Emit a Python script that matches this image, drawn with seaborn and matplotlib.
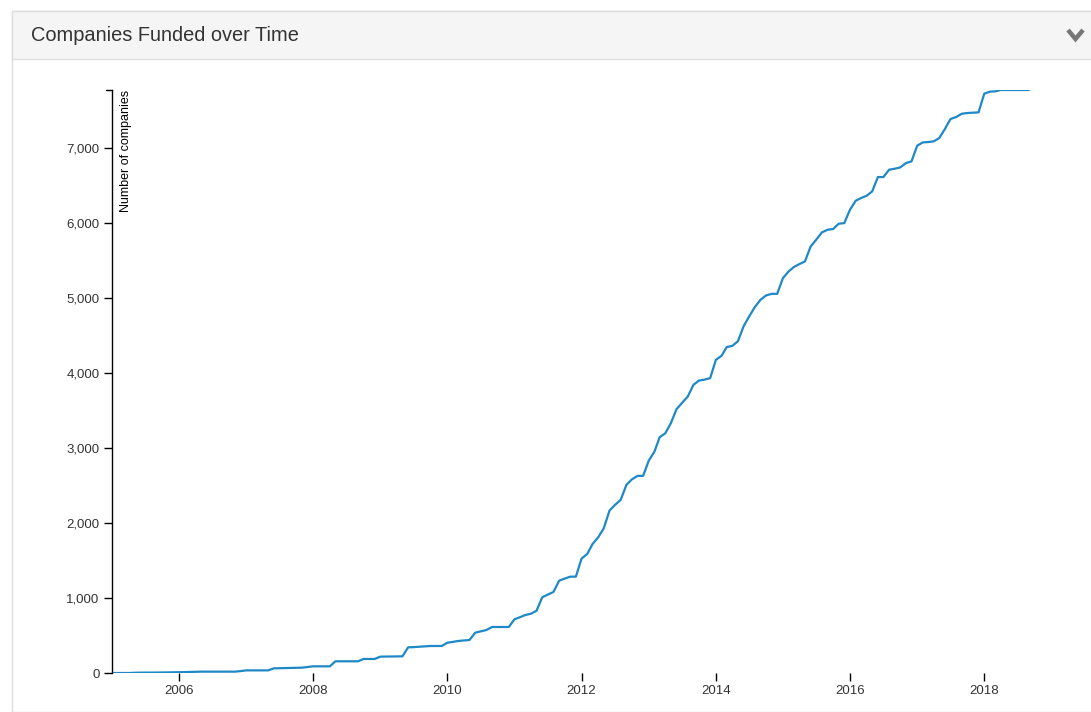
import numpy as np
import pandas as pd
import matplotlib
matplotlib.use("Agg")
import matplotlib.pyplot as plt
import matplotlib.dates as mdates
from matplotlib.patches import Rectangle
from matplotlib.lines import Line2D
from matplotlib.ticker import FuncFormatter
import seaborn as sns

# ---------------- data (cumulative companies funded, monthly) ----------------
start_month = "2005-01"
counts_2005 = [0, 0, 0, 0, 3, 5, 5, 6, 6, 7, 8, 8]
counts_2006 = [10, 12, 14, 16, 18, 18, 18, 18, 18, 18, 18, 25]
counts_2007 = [35, 35, 35, 35, 35, 62, 64, 66, 68, 70, 71, 80]
counts_2008 = [89, 89, 89, 89, 156, 156, 156, 156, 156, 187, 187, 187]
counts_2009 = [218, 219, 220, 221, 222, 342, 345, 350, 355, 360, 360, 360]
counts_2010 = [404, 415, 427, 434, 440, 537, 555, 573, 613, 613, 613, 613]
counts_2011 = [716, 745, 773, 790, 830, 1009, 1045, 1080, 1231, 1258, 1284, 1284]
counts_2012 = [1524, 1587, 1720, 1810, 1929, 2164, 2240, 2307, 2507, 2580, 2627, 2627]
counts_2013 = [2831, 2951, 3142, 3195, 3329, 3516, 3600, 3684, 3840, 3897, 3910, 3929]
counts_2014 = [4173, 4227, 4343, 4360, 4420, 4620, 4750, 4876, 4973, 5031, 5053, 5053]
counts_2015 = [5262, 5351, 5409, 5450, 5484, 5684, 5773, 5871, 5907, 5916, 5987, 5995]
counts_2016 = [6173, 6293, 6329, 6360, 6418, 6609, 6609, 6707, 6720, 6738, 6796, 6818]
counts_2017 = [7027, 7071, 7075, 7085, 7129, 7250, 7382, 7409, 7453, 7462, 7466, 7471]
counts_2018 = [7720, 7747, 7751, 7769, 7769, 7769, 7769, 7769, 7769]

x_tick_years = [2006, 2008, 2010, 2012, 2014, 2016, 2018]
y_ticks = [0, 1000, 2000, 3000, 4000, 5000, 6000, 7000]

title_text = "Companies Funded over Time"
y_label = "Number of companies"

counts = (counts_2005 + counts_2006 + counts_2007 + counts_2008 + counts_2009 +
          counts_2010 + counts_2011 + counts_2012 + counts_2013 + counts_2014 +
          counts_2015 + counts_2016 + counts_2017 + counts_2018)
dates = pd.date_range(start=start_month, periods=len(counts), freq="MS")
df = pd.DataFrame({"date": dates, "companies": counts})

# ---------------- style ----------------
sns.set_style("white")
plt.rcParams["font.family"] = ["Liberation Sans", "DejaVu Sans"]

W, H = 1091, 712
fig = plt.figure(figsize=(W / 100, H / 100), dpi=100)
fig.patch.set_facecolor("white")

def fx(px):
    return px / W

def fy(py):
    return 1 - py / H

# panel frame + header (drawn beneath the axes)
fig.patches.append(Rectangle((fx(12), fy(712)), fx(1200), fy(11) - fy(712),
                             transform=fig.transFigure, facecolor="white",
                             edgecolor="#dddddd", linewidth=1.0, zorder=-2))
fig.patches.append(Rectangle((fx(12), fy(59)), fx(1200), fy(11) - fy(59),
                             transform=fig.transFigure, facecolor="#f5f5f5",
                             edgecolor="#dddddd", linewidth=1.0, zorder=-1))
fig.text(fx(31), fy(41), title_text, fontsize=14.4, color="#333333",
         ha="left", va="baseline")
# chevron icon
fig.add_artist(Line2D([fx(1068), fx(1075.5), fx(1083)], [fy(30), fy(39), fy(30)],
                      transform=fig.transFigure, color="#777777", linewidth=3.2,
                      solid_capstyle="butt", solid_joinstyle="miter"))

# axes
ax_left, ax_right, ax_top, ax_bottom = 112, 1091, 90, 673
ax = fig.add_axes([fx(ax_left), fy(ax_bottom), fx(ax_right - ax_left),
                   fy(ax_top) - fy(ax_bottom)])
ax.set_zorder(1)
ax.set_facecolor("none")
ax.patch.set_alpha(0)

sns.lineplot(data=df, x="date", y="companies", ax=ax, color="#1f88c6",
             linewidth=1.6, legend=False)

px_per_year = 67.1
x0 = pd.Timestamp("2005-01-01")
x1 = x0 + pd.Timedelta(days=(ax_right - ax_left) / px_per_year * 365.25)
ax.set_xlim(x0, x1)
ax.set_ylim(0, max(counts))

ax.set_xticks([pd.Timestamp(f"{y}-01-01") for y in x_tick_years])
ax.xaxis.set_major_formatter(mdates.DateFormatter("%Y"))
ax.set_yticks(y_ticks)
ax.yaxis.set_major_formatter(FuncFormatter(lambda v, p: f"{int(v):,}"))

for s in ["top", "right", "bottom"]:
    ax.spines[s].set_visible(False)
ax.spines["left"].set_color("#000000")
ax.spines["left"].set_linewidth(1.0)

ax.tick_params(axis="both", which="major", direction="out", length=6, width=1,
               color="#000000", labelsize=9.5, labelcolor="#333333", pad=3,
               bottom=True, left=True)
ax.set_xlabel("")
ax.set_ylabel("")
ax.grid(False)

# top outer tick of the y axis domain
ax.plot([0, -6 / (ax_right - ax_left)], [1, 1], transform=ax.transAxes,
        color="#000000", linewidth=1, clip_on=False)

ax.text(14 / (ax_right - ax_left), 1.0, y_label, transform=ax.transAxes,
        rotation=90, ha="center", va="top", fontsize=9, color="#000000")

fig.savefig("out.png", dpi=100)
